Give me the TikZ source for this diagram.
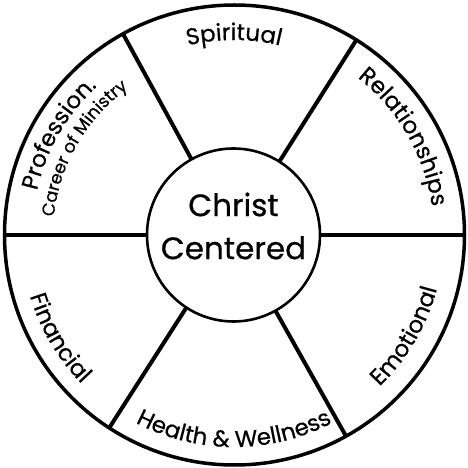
\documentclass[tikz,border=0pt]{standalone}
\usepackage{fontspec}
\setmainfont{Poppins}[FakeBold=0.6]
\usetikzlibrary{decorations.text}
\newcommand\lblfont{\fontsize{23pt}{25pt}\selectfont}
\newcommand\smlfont{\fontsize{17.5pt}{19pt}\selectfont}
\begin{document}
\begin{tikzpicture}[x=1pt,y=1pt,
  ring/.style={circle, draw, inner sep=0pt, outer sep=0pt},
  spoke/.style={line width=4pt},
  curvelabel/.style={decorate, decoration={text along path, text align=center, text={#1}}}]
\useasboundingbox (-234,-233) rectangle (234,235);
\node[ring, line width=3.5pt, minimum size=460pt] (outer) at (0.5,0) {};
\node[ring, line width=2.6pt, minimum size=173pt] (inner) at (-0.5,0) {};
\node[align=center, inner sep=0pt, font=\fontsize{31pt}{43pt}\selectfont]
  (title) at ([yshift=9pt]inner.center) {Christ\\Centered};
\foreach \a in {0,58,119.4,180,237.3,299.7} \draw[spoke] (inner.\a) -- (outer.\a);
% upper half: clockwise, letters outward
\path[curvelabel={|\lblfont|Spiritual}] (130:195pt) arc[start angle=130,end angle=50,radius=195pt];
\path[curvelabel={|\lblfont|Relationships}] (75:200pt) arc[start angle=75,end angle=-15,radius=200pt];
\path[curvelabel={|\lblfont|Profession.}] (200:202pt) arc[start angle=200,end angle=100,radius=202pt];
\path[curvelabel={|\smlfont|Career of Ministry}] (205:181pt) arc[start angle=205,end angle=95,radius=181pt];
% lower half: counterclockwise, letters inward
\path[curvelabel={|\lblfont|Financial}] (165:213pt) arc[start angle=165,end angle=256,radius=213pt];
\path[curvelabel={|\lblfont|Health {\&} Wellness}] (220:212pt) arc[start angle=220,end angle=320,radius=212pt];
\path[curvelabel={|\lblfont|Emotional}] (-80:210pt) arc[start angle=-80,end angle=19,radius=210pt];
\end{tikzpicture}
\end{document}
